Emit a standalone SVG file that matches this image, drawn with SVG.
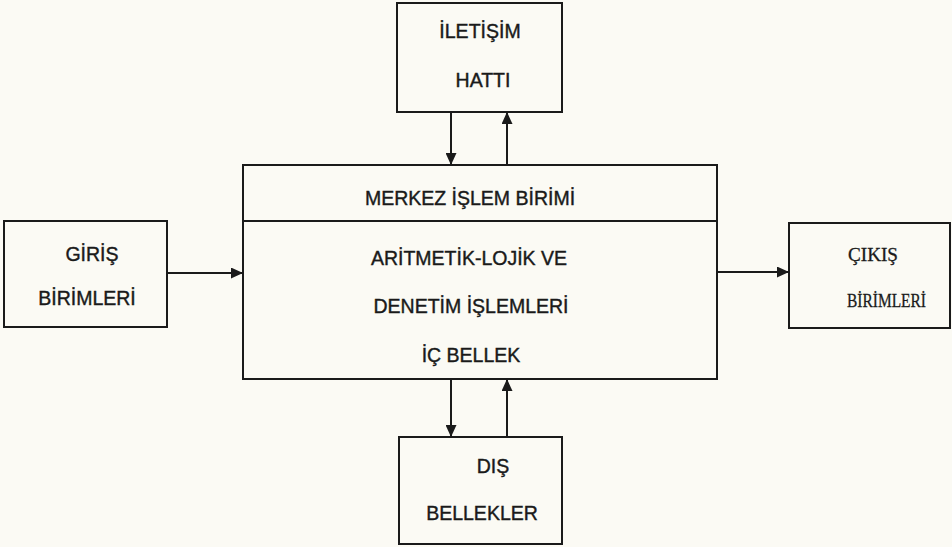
<svg xmlns="http://www.w3.org/2000/svg" width="952" height="547" viewBox="0 0 952 547">
  <defs>
    <marker id="ah" viewBox="0 0 12 11" refX="12" refY="5.5" markerWidth="6" markerHeight="5.5" orient="auto" markerUnits="strokeWidth">
      <path d="M0,0 L12,5.5 L0,11 z" fill="#1a1a1a"/>
    </marker>
    <style>
      .box { fill: none; stroke: #1a1a1a; stroke-width: 2; }
      .ln { fill: none; stroke: #1a1a1a; stroke-width: 2; marker-end: url(#ah); }
      .t { font-family: "Liberation Sans", Arial, sans-serif; font-size: 19.5px; fill: #1a1a1a; stroke: #1a1a1a; stroke-width: 0.4; text-anchor: middle; }
      .ts { font-family: "Liberation Serif", "Times New Roman", serif; font-size: 19px; fill: #1a1a1a; stroke: #1a1a1a; stroke-width: 0.3; }
    </style>
  </defs>
  <rect x="0" y="0" width="952" height="547" fill="#fbfaf4"/>

  <g id="iletisim">
    <rect class="box" x="397" y="3" width="165" height="109"/>
    <text class="t" x="480" y="38">İLETİŞİM</text>
    <text class="t" x="483" y="87">HATTI</text>
  </g>

  <g id="cpu">
    <rect class="box" x="243" y="165" width="474" height="214"/>
    <line x1="243" y1="221" x2="717" y2="221" stroke="#1a1a1a" stroke-width="2"/>
    <text class="t" x="470" y="205">MERKEZ İŞLEM BİRİMİ</text>
    <text class="t" x="469" y="265">ARİTMETİK-LOJİK VE</text>
    <text class="t" x="471" y="313">DENETİM İŞLEMLERİ</text>
    <text class="t" x="471" y="362">İÇ BELLEK</text>
  </g>

  <g id="giris">
    <rect class="box" x="4" y="221" width="163" height="106"/>
    <text class="t" x="92" y="261">GİRİŞ</text>
    <text class="t" x="87" y="305">BİRİMLERİ</text>
  </g>

  <g id="cikis">
    <rect class="box" x="789" y="223" width="161" height="105"/>
    <text class="ts" x="848" y="261" textLength="50" lengthAdjust="spacingAndGlyphs">ÇIKIŞ</text>
    <text class="ts" x="847" y="307" textLength="79" lengthAdjust="spacingAndGlyphs">BİRİMLERİ</text>
  </g>

  <g id="dis">
    <rect class="box" x="399" y="437" width="163" height="107"/>
    <text class="t" x="493" y="473">DIŞ</text>
    <text class="t" x="482" y="520">BELLEKLER</text>
  </g>

  <g id="connectors">
    <line class="ln" x1="451" y1="112" x2="451" y2="165"/>
    <line class="ln" x1="507" y1="165" x2="507" y2="112"/>
    <line class="ln" x1="167" y1="273" x2="243" y2="273"/>
    <line class="ln" x1="717" y1="272" x2="789" y2="272"/>
    <line class="ln" x1="451" y1="379" x2="451" y2="437"/>
    <line class="ln" x1="507" y1="437" x2="507" y2="379"/>
  </g>
</svg>
